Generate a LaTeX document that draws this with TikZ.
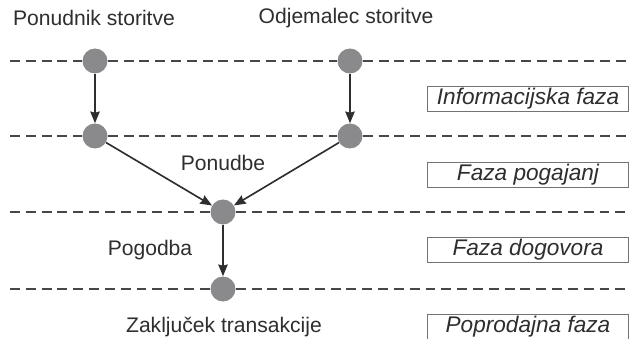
\documentclass[tikz,border=0pt]{standalone}
\usepackage{fontspec}
\setmainfont{Liberation Sans}
\usepackage{tikz}
\usetikzlibrary{arrows.meta}
\usetikzlibrary{positioning}
\definecolor{mygray}{HTML}{8A8A8C}
\definecolor{mytext}{HTML}{2E2E30}
\definecolor{myline}{HTML}{4A4648}
\tikzset{every text node part/.style={align=center, font={\fontsize{18}{21}\selectfont}, text=mytext}}
\tikzstyle{dot} = [circle, fill=mygray, draw=none, minimum size=0.75cm, inner sep=0pt]
\tikzstyle{phase} = [draw=gray!90!black, fill=white, line width=0.8pt, minimum width=6.05cm, minimum height=0.76cm, inner sep=0pt, every text node part/.append style={font={\fontsize{19.3}{22}\selectfont\itshape}}]
\tikzstyle{sep} = [draw=myline, dashed, dash pattern=on 8.5pt off 5pt, line width=1.5pt]
\tikzstyle{ln} = [draw=mytext, line width=1.4pt, -{Stealth[length=10pt, width=8pt, inset=1pt]}]

\begin{document}
\begin{tikzpicture}[x=0.03cm, y=-0.03cm]
    \useasboundingbox (0,0) rectangle (631,339);
    % Nodes
    \node[dot] (pon1) at (95,61) {};
    \node[dot] (odj1) at (350,61) {};
    \node[dot] (pon2) at (95,136) {};
    \node[dot] (odj2) at (350,136) {};
    \node[dot] (dog) at (223,212) {};
    \node[dot] (zak) at (223,289) {};

    \coordinate (l1) at (10,61);   \coordinate (r1) at (631,61);
    \coordinate (l2) at (10,136);  \coordinate (r2) at (631,136);
    \coordinate (l3) at (10,212);  \coordinate (r3) at (631,212);
    \coordinate (l4) at (10,289);  \coordinate (r4) at (631,289);

    % Labels
    \node (ponudnik) at (94,18) {Ponudnik storitve};
    \node (odjemalec) at (346,18) {Odjemalec storitve};
    \node (ponudbe) at (223,163) {Ponudbe};
    \node (pogodba) at (150,250) {Pogodba};
    \node (zakljucek) at (224,327) {Zaključek transakcije};

    % Phase boxes
    \node[phase] (info) at (528,99) {Informacijska faza};
    \node[phase] (pogajanja) at (528,175) {Faza pogajanj};
    \node[phase] (dogovor) at (528,250) {Faza dogovora};
    \node[phase] (poprodaja) at (528,327) {Poprodajna faza};

    % Separators
    \path[sep] (l1) -- (pon1) -- (odj1) -- (r1);
    \path[sep] (l2) -- (pon2) -- (odj2) -- (r2);
    \path[sep] (l3) -- (dog) -- (r3);
    \path[sep] (l4) -- (zak) -- (r4);

    % Paths
    \draw[ln] (pon1) -- (pon2);
    \draw[ln] (odj1) -- (odj2);
    \draw[ln] (pon2) -- (dog);
    \draw[ln] (odj2) -- (dog);
    \draw[ln] (dog) -- (zak);
\end{tikzpicture}
\end{document}
